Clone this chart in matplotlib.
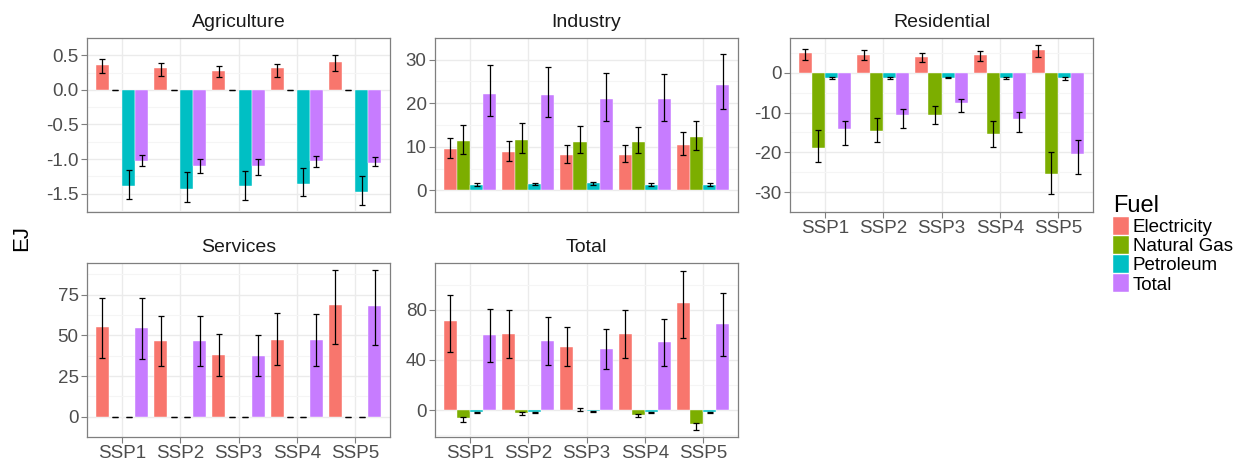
import numpy as np
import matplotlib
matplotlib.use("Agg")
import matplotlib.pyplot as plt
from matplotlib.patches import Patch

plt.rcParams['font.family'] = ['Liberation Sans', 'DejaVu Sans']
plt.rcParams['axes.unicode_minus'] = False

# data (value, low, high per fuel and scenario)
ssps = ["SSP1", "SSP2", "SSP3", "SSP4", "SSP5"]
fuels = ["Electricity", "Natural Gas", "Petroleum", "Total"]
colors = ["#F8766D", "#7CAE00", "#00BFC4", "#C77CFF"]

agri_val = [[0.365, 0.31, 0.28, 0.31, 0.41],
            [0, 0, 0, 0, 0],
            [-1.39, -1.43, -1.39, -1.36, -1.48],
            [-1.035, -1.10, -1.10, -1.035, -1.06]]
agri_lo = [[0.237, 0.205, 0.18, 0.18, 0.27],
           [0, 0, 0, 0, 0],
           [-1.58, -1.62, -1.59, -1.54, -1.67],
           [-1.10, -1.20, -1.23, -1.12, -1.10]]
agri_hi = [[0.447, 0.39, 0.35, 0.38, 0.50],
           [0, 0, 0, 0, 0],
           [-1.16, -1.19, -1.17, -1.13, -1.24],
           [-0.94, -1.00, -1.00, -0.95, -0.97]]

ind_val = [[9.4, 8.75, 8.0, 8.2, 10.4],
           [11.3, 11.6, 11.1, 11.0, 12.2],
           [1.3, 1.4, 1.6, 1.3, 1.3],
           [22.2, 22.0, 20.9, 20.9, 24.3]]
ind_lo = [[7.4, 6.8, 6.25, 6.4, 8.1],
          [8.3, 8.6, 8.5, 8.5, 9.3],
          [1.0, 1.1, 1.3, 1.0, 1.0],
          [17.0, 16.9, 16.0, 16.0, 18.7]]
ind_hi = [[12.1, 11.3, 10.3, 10.5, 13.5],
          [14.9, 15.4, 14.7, 14.5, 15.9],
          [1.6, 1.7, 1.9, 1.6, 1.6],
          [28.7, 28.4, 27.0, 26.8, 31.3]]

res_val = [[4.96, 4.57, 4.0, 4.5, 5.75],
           [-18.8, -14.6, -10.7, -15.5, -25.4],
           [-1.26, -1.26, -1.2, -1.26, -1.4],
           [-14.25, -10.7, -7.6, -11.65, -20.5]]
res_lo = [[3.3, 3.15, 2.76, 3.07, 3.94],
          [-22.4, -17.5, -12.9, -18.6, -30.6],
          [-1.5, -1.5, -1.4, -1.5, -1.8],
          [-18.2, -13.8, -9.8, -15.0, -25.35]]
res_hi = [[6.0, 5.6, 4.96, 5.4, 6.9],
          [-14.4, -11.3, -8.3, -12.0, -19.8],
          [-1.1, -1.1, -1.0, -1.1, -1.1],
          [-12.0, -9.2, -6.5, -9.8, -16.85]]

serv_val = [[55.3, 46.6, 37.9, 47.3, 68.4],
            [0, 0, 0, 0, 0],
            [-0.3, -0.3, -0.3, -0.3, -0.3],
            [54.7, 46.4, 37.5, 47.3, 67.8]]
serv_lo = [[35.8, 30.9, 25.2, 31.8, 44.9],
           [0, 0, 0, 0, 0],
           [-0.4, -0.4, -0.4, -0.4, -0.4],
           [35.6, 30.9, 25.2, 31.4, 44.1]]
serv_hi = [[72.9, 62.1, 50.8, 63.6, 90.0],
           [0, 0, 0, 0, 0],
           [-0.2, -0.2, -0.2, -0.2, -0.2],
           [72.7, 61.9, 50.2, 63.1, 90.0]]

tot_val = [[70.7, 60.9, 50.3, 60.9, 85.4],
           [-6.6, -2.7, 0.4, -4.0, -11.4],
           [-1.9, -1.9, -1.1, -1.6, -1.9],
           [60.1, 55.3, 48.9, 54.0, 68.6]]
tot_lo = [[46.5, 41.2, 34.8, 41.2, 57.2],
          [-9.3, -4.3, -0.8, -5.6, -15.7],
          [-2.3, -2.3, -1.4, -2.0, -2.3],
          [38.3, 36.2, 33.0, 35.1, 43.1]]
tot_hi = [[91.5, 79.5, 66.0, 80.0, 110.9],
          [-5.6, -1.6, 1.6, -2.9, -10.1],
          [-1.5, -1.5, -0.8, -1.2, -1.5],
          [80.9, 73.9, 64.9, 72.6, 93.1]]

panels = [
    ("Agriculture", agri_val, agri_lo, agri_hi, [87, 38], (-1.765, 0.607),
     [-1.5, -1.0, -0.5, 0.0, 0.5], ["-1.5", "-1.0", "-0.5", "0.0", "0.5"], False),
    ("Industry", ind_val, ind_lo, ind_hi, [435, 38], (-1.38, 32.8),
     [0, 10, 20, 30], None, False),
    ("Residential", res_val, res_lo, res_hi, [790, 38], (-32.2, 8.74),
     [-30, -20, -10, 0], None, True),
    ("Services", serv_val, serv_lo, serv_hi, [87, 263], (-4.36, 94.5),
     [0, 25, 50, 75], None, True),
    ("Total", tot_val, tot_lo, tot_hi, [435, 263], (-21.5, 117.3),
     [0, 40, 80], None, True),
]

W, H = 1244, 468
fig = plt.figure(figsize=(W / 100, H / 100), dpi=100)

x = np.arange(1, 6)
bw = 0.9 / 4

for title, val, lo, hi, (px, py), ylim, yt, ytl, show_x in panels:
    ax = fig.add_axes([px / W, 1 - (py + 174) / H, 303 / W, 174 / H])
    for i in range(4):
        xs = x - 0.45 + bw * (i + 0.5)
        v = np.array(val[i])
        ax.bar(xs, v, width=bw, color=colors[i], edgecolor="white",
               linewidth=0.3, zorder=2)
        err = [v - np.array(lo[i]), np.array(hi[i]) - v]
        ax.errorbar(xs, v, yerr=err, fmt="none", ecolor="black",
                    elinewidth=0.9, capsize=2.2, capthick=0.9, zorder=3)
    ax.set_xlim(0.4, 5.6)
    ax.set_ylim(*ylim)
    ax.set_yticks(yt)
    if ytl:
        ax.set_yticklabels(ytl)
    ax.set_yticks([(a + b) / 2 for a, b in zip(yt[:-1], yt[1:])] +
                  [yt[-1] + (yt[1] - yt[0]) / 2, yt[0] - (yt[1] - yt[0]) / 2],
                  minor=True)
    ax.set_xticks(x)
    ax.set_xticklabels(ssps)
    ax.grid(True, which="major", color="#EBEBEB", linewidth=1.0, zorder=0)
    ax.grid(True, which="minor", axis="y", color="#F5F5F5", linewidth=0.8, zorder=0)
    ax.set_axisbelow(True)
    ax.tick_params(which="minor", length=0)
    ax.tick_params(which="major", length=4, width=0.8, color="#7F7F7F",
                   labelsize=13.5, labelcolor="#4D4D4D", pad=2)
    if not show_x:
        ax.tick_params(axis="x", length=0, labelbottom=False)
    for s in ax.spines.values():
        s.set_color("#7F7F7F")
        s.set_linewidth(0.9)
    ax.set_title(title, fontsize=14, color="#1A1A1A", pad=8)

fig.text(22 / W, 1 - 238 / H, "EJ", rotation=90, fontsize=16,
         ha="center", va="center")

handles = [Patch(facecolor=c, edgecolor="white", linewidth=0.3) for c in colors]
leg = fig.legend(handles, fuels, loc="upper left",
                 bbox_to_anchor=(1100 / W, 1 - 182 / H), frameon=False,
                 title="Fuel", title_fontsize=17, fontsize=13.5,
                 handlelength=0.85, handleheight=1.05, labelspacing=0.0,
                 handletextpad=0.2, borderpad=0.2, alignment="left")

fig.savefig("out.png", dpi=100)
